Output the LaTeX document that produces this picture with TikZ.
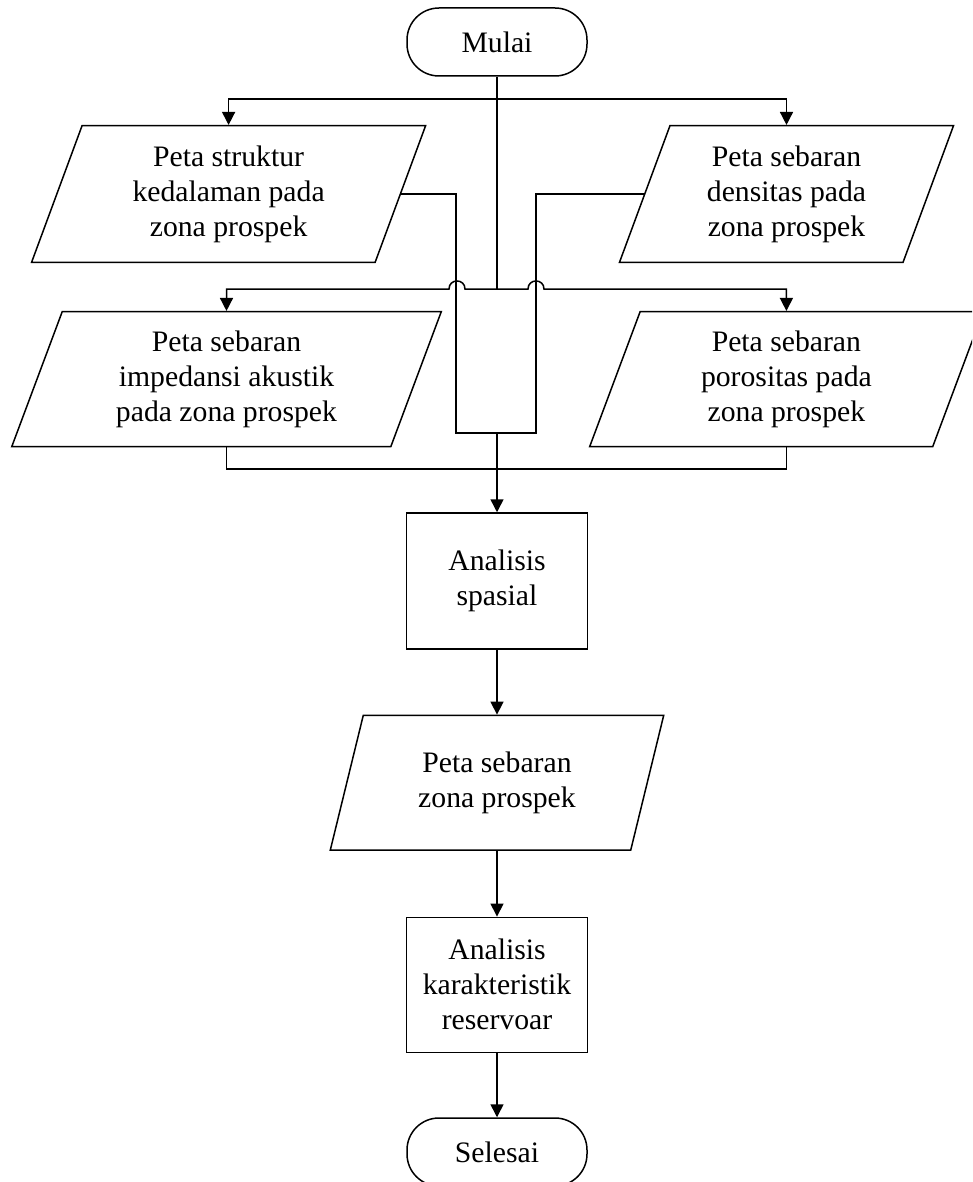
\documentclass[tikz,border=0pt]{standalone}
\usepackage{fontspec}
\setmainfont{Liberation Serif}
\usetikzlibrary{shapes.geometric,arrows.meta}

\begin{document}
\begin{tikzpicture}[x=1pt,y=-1pt,
  every node/.style={font=\fontsize{29.7pt}{35pt}\selectfont, align=center},
  line/.style={line width=1.5pt, line join=miter},
  arr/.style={line, -{Triangle[length=13pt,width=13pt]}},
  terminal/.style={line, draw, rectangle, rounded corners=32pt,
    minimum width=180pt, minimum height=68pt, inner sep=2pt},
  process/.style={line, draw, rectangle,
    minimum width=181pt, minimum height=136pt, inner sep=2pt},
  io/.style={line, draw, trapezium, trapezium left angle=63.435,
    trapezium right angle=116.565, trapezium stretches body,
    inner sep=2pt}
]
\useasboundingbox (0,0) rectangle (972,1182);
\clip (0,0) rectangle (972,1182);

% start / end terminals
\node[terminal] (mulai) at (497,42) {Mulai};

% input maps
\node[io, minimum width=394pt, minimum height=136.6pt] (p1) at (228.6,194) {Peta struktur\\kedalaman pada\\zona prospek};
\node[io, minimum width=334pt, minimum height=136.6pt] (p2) at (786.5,194) {Peta sebaran\\densitas pada\\zona prospek};
\node[io, minimum width=429.5pt, minimum height=135pt] (p3) at (226.5,379.2) {Peta sebaran\\impedansi akustik\\pada zona prospek};
\node[io, minimum width=393.5pt, minimum height=135pt] (p4) at (786.4,379.2) {Peta sebaran\\porositas pada\\zona prospek};

% processing chain
\node[process] (spasial) at (497,581) {Analisis\\spasial};
\node[io, minimum width=333.4pt, minimum height=134.7pt] (p5) at (497,782.7) {Peta sebaran\\zona prospek};
\node[process, minimum height=135pt] (karakter) at (497,984.8) {Analisis\\karakteristik\\reservoar};
\node[terminal] (selesai) at (497,1152) {Selesai};

% branching points
\coordinate (j1) at (497,99);
\coordinate (j2) at (497,289);
\coordinate (u1) at (456,433);
\coordinate (u2) at (536,433);
\coordinate (um) at (497,433);
\coordinate (b3) at (226.5,469);

% trunk from the start
\draw[line] (mulai.south -| j1) -- (j2);
\draw[arr] (j1) -| (p1.center |- p1.top side);
\draw[arr] (j1) -| (p2.center |- p2.top side);

% second row, hopping over the collecting lines
\draw[arr] (j2) -- (465,289) .. controls (465,278.3) and (449,278.3) .. (449,289)
  -| (p3.center |- p3.top side);
\draw[arr] (j2) -- (528,289) .. controls (528,278.3) and (544,278.3) .. (544,289)
  -| (p4.center |- p4.top side);

% collecting the upper maps
\draw[line] (p1.right side) -| (u1) -- (u2) |- (p2.left side);
% collecting the lower maps
\draw[line] (p3.center |- p3.bottom side) -- (b3) -| (p4.center |- p4.bottom side);

\draw[arr] (um) -- (um |- spasial.north);
\draw[arr] (um |- spasial.south) -- (um |- p5.top side);
\draw[arr] (um |- p5.bottom side) -- (um |- karakter.north);
\draw[arr] (um |- karakter.south) -- (um |- selesai.north);
\end{tikzpicture}
\end{document}
